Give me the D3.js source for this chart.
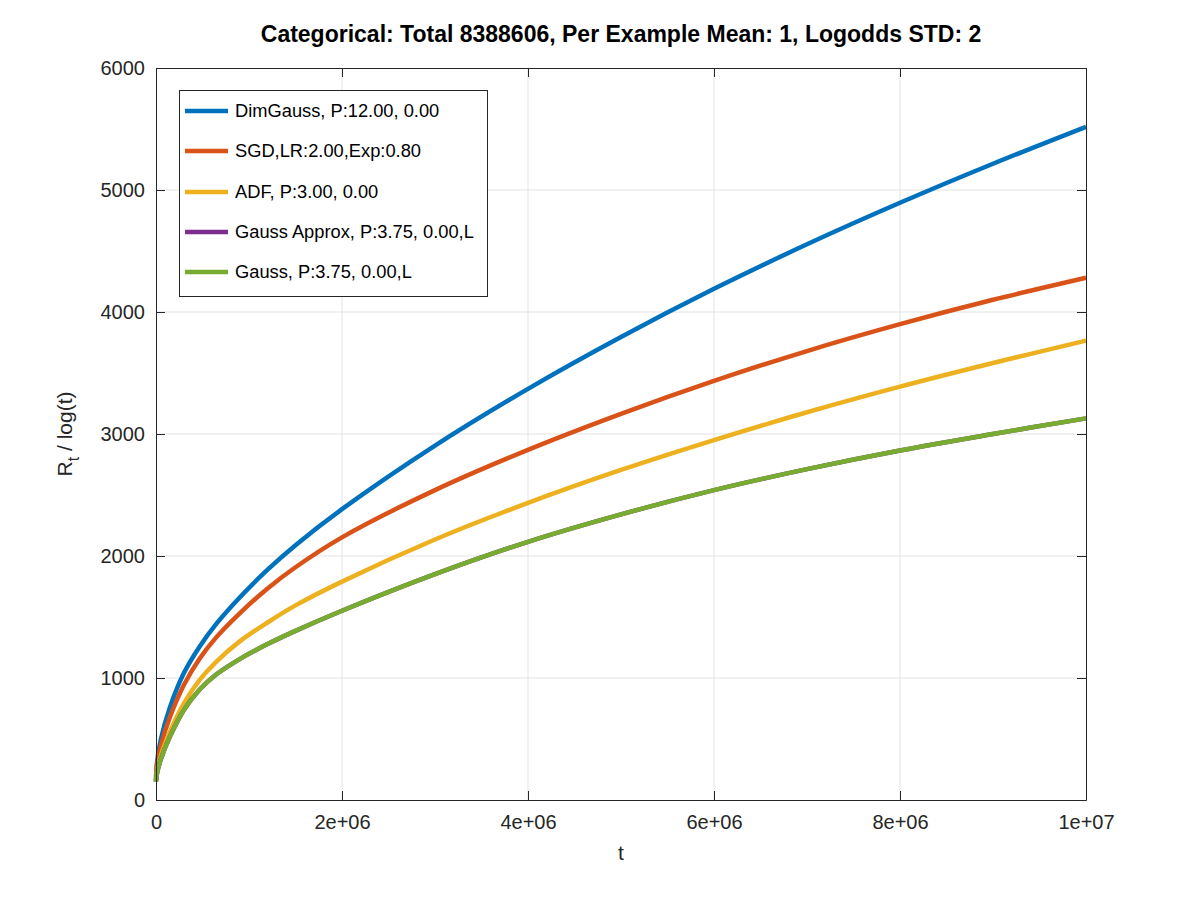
<!DOCTYPE html>
<html><head><meta charset="utf-8">
<script src="https://cdn.jsdelivr.net/npm/d3@7"></script>
<style>body{margin:0;background:#fff}svg{font-family:"Liberation Sans",Arial,sans-serif}</style>
</head><body><svg id="c" width="1200" height="900"></svg>
<script>
const tMillions = [0, 0.01, 0.05, 0.15, 0.3, 0.47, 0.65, 0.9, 1.2, 1.5, 2, 3, 4, 5, 6, 7, 8, 9, 10];
const dimGauss    = [160, 300, 490, 760, 1040, 1258, 1445, 1660, 1888, 2089, 2384, 2905, 3370, 3795, 4190, 4555, 4895, 5215, 5518];
const sgd         = [160, 280, 440, 680, 943, 1160, 1335, 1530, 1734, 1908, 2153, 2540, 2870, 3165, 3435, 3680, 3900, 4100, 4281];
const adf         = [155, 230, 360, 560, 793, 985, 1135, 1300, 1455, 1595, 1790, 2135, 2435, 2705, 2950, 3178, 3388, 3582, 3765];
const gaussApprox = [150, 215, 330, 520, 738, 905, 1030, 1155, 1278, 1386, 1551, 1851, 2116, 2341, 2540, 2712, 2865, 3000, 3128];
const gauss       = [150, 215, 330, 520, 738, 905, 1030, 1155, 1278, 1386, 1551, 1851, 2116, 2341, 2540, 2712, 2865, 3000, 3128];
const seriesNames = ["DimGauss, P:12.00, 0.00", "SGD,LR:2.00,Exp:0.80", "ADF, P:3.00, 0.00", "Gauss Approx, P:3.75, 0.00,L", "Gauss, P:3.75, 0.00,L"];
const seriesColors = ["#0072BD", "#D95319", "#EDB120", "#7E2F8E", "#77AC30"];
const xTicks = [0, 2e6, 4e6, 6e6, 8e6, 1e7];
const xTickLabels = ["0", "2e+06", "4e+06", "6e+06", "8e+06", "1e+07"];
const yTicks = [0, 1000, 2000, 3000, 4000, 5000, 6000];
const titleText = "Categorical: Total 8388606, Per Example Mean: 1, Logodds STD: 2";

const allSeries = [dimGauss, sgd, adf, gaussApprox, gauss];
const svg = d3.select("#c");
const L = 156, R = 1086, T = 68, B = 800;
const x = d3.scaleLinear().domain([0, 1e7]).range([L, R]);
const y = d3.scaleLinear().domain([0, 6000]).range([B, T]);
const axisCol = "#262626";
const FONT = "Liberation Sans, Arial, sans-serif";

// grid
svg.append("g").selectAll("line").data(xTicks.slice(1, -1)).join("line")
  .attr("x1", d => x(d)).attr("x2", d => x(d)).attr("y1", T).attr("y2", B)
  .attr("stroke", "#e3e3e3").attr("stroke-width", 1);
svg.append("g").selectAll("line").data(yTicks.slice(1, -1)).join("line")
  .attr("y1", d => y(d)).attr("y2", d => y(d)).attr("x1", L).attr("x2", R)
  .attr("stroke", "#e3e3e3").attr("stroke-width", 1);

// lines
const line = d3.line().x((d, i) => x(tMillions[i] * 1e6)).y(d => y(d)).curve(d3.curveCatmullRom.alpha(0.5));
allSeries.forEach((s, k) => {
  svg.append("path").datum(s).attr("d", line).attr("fill", "none")
    .attr("stroke", seriesColors[k]).attr("stroke-width", 4.5).attr("stroke-linejoin", "round");
});

// axes (ticks inside)
const tl = 9;
const gx = svg.append("g").attr("transform", `translate(0,${B})`)
  .call(d3.axisBottom(x).tickValues(xTicks).tickFormat((d, i) => xTickLabels[i]).tickSizeInner(-tl).tickSizeOuter(0).tickPadding(15));
const gxt = svg.append("g").attr("transform", `translate(0,${T})`)
  .call(d3.axisTop(x).tickValues(xTicks).tickFormat("").tickSizeInner(-tl).tickSizeOuter(0));
const gy = svg.append("g").attr("transform", `translate(${L},0)`)
  .call(d3.axisLeft(y).tickValues(yTicks).tickFormat(d3.format("d")).tickSizeInner(-tl).tickSizeOuter(0).tickPadding(11));
const gyr = svg.append("g").attr("transform", `translate(${R},0)`)
  .call(d3.axisRight(y).tickValues(yTicks).tickFormat("").tickSizeInner(-tl).tickSizeOuter(0));
[gx, gxt, gy, gyr].forEach(g => {
  g.select(".domain").attr("stroke", axisCol).attr("stroke-width", 1);
  g.selectAll(".tick line").attr("stroke", axisCol);
  g.selectAll("text").attr("fill", axisCol).style("font-size", "20px").style("font-family", FONT);
});

// title
svg.append("text").attr("x", 621).attr("y", 42).attr("text-anchor", "middle")
  .style("font-size", "23px").style("font-weight", "bold").attr("fill", "#000").text(titleText);
// x label
svg.append("text").attr("x", 621).attr("y", 860).attr("text-anchor", "middle")
  .style("font-size", "21px").attr("fill", axisCol).text("t");
// y label
const yl = svg.append("text").attr("transform", "translate(72,434) rotate(-90)").attr("text-anchor", "middle")
  .style("font-size", "21px").attr("fill", axisCol);
yl.append("tspan").text("R");
yl.append("tspan").attr("dy", 7).style("font-size", "16px").text("t");
yl.append("tspan").attr("dy", -7).text(" / log(t)");

// legend
const lg = svg.append("g");
lg.append("rect").attr("x", 179.5).attr("y", 90.5).attr("width", 308).attr("height", 206)
  .attr("fill", "#fff").attr("stroke", axisCol).attr("stroke-width", 1);
const ly = [111, 151, 192, 232, 272];
seriesNames.forEach((n, k) => {
  lg.append("line").attr("x1", 185).attr("x2", 228).attr("y1", ly[k]).attr("y2", ly[k])
    .attr("stroke", seriesColors[k]).attr("stroke-width", 4.5);
  lg.append("text").attr("x", 235).attr("y", ly[k]).attr("dy", "0.35em")
    .style("font-size", "18.3px").attr("fill", "#000").text(n);
});
</script></body></html>
